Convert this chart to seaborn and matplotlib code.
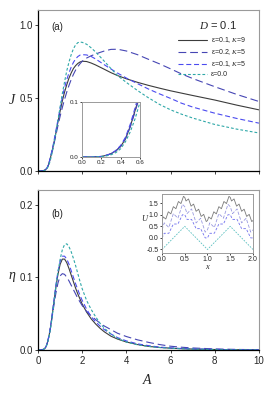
import numpy as np
import pandas as pd
import matplotlib
matplotlib.use("Agg")
import matplotlib.pyplot as plt
import seaborn as sns

# amplitude grid (shared by all curves)
A = [0, 0.1, 0.15, 0.2, 0.25, 0.3, 0.35, 0.4, 0.45, 0.5, 0.55, 0.6,
     0.7, 0.8, 0.9, 1.0, 1.1, 1.2, 1.3, 1.4, 1.5, 1.6, 1.7, 1.8, 1.9, 2.0,
     2.2, 2.4, 2.6, 2.8, 3.0, 3.3, 3.6, 4.0, 4.5, 5.0, 5.5, 6.0, 6.5, 7.0,
     8.0, 9.0, 10.0]

# current J(A)
J_e1_k9 = [0, 0, 0.0005, 0.001, 0.003, 0.006, 0.011, 0.019, 0.033, 0.056, 0.085, 0.115,
           0.18, 0.255, 0.335, 0.41, 0.48, 0.54, 0.59, 0.635, 0.67, 0.70, 0.72, 0.735, 0.745, 0.75,
           0.748, 0.738, 0.725, 0.71, 0.695, 0.672, 0.652, 0.63, 0.606, 0.585, 0.566, 0.548, 0.532, 0.516,
           0.485, 0.45, 0.418]
J_e2_k5 = [0, 0, 0.0005, 0.001, 0.003, 0.006, 0.011, 0.02, 0.034, 0.055, 0.083, 0.112,
           0.172, 0.24, 0.31, 0.375, 0.435, 0.49, 0.54, 0.585, 0.625, 0.66, 0.69, 0.713, 0.733, 0.75,
           0.772, 0.787, 0.799, 0.81, 0.82, 0.831, 0.832, 0.82, 0.795, 0.763, 0.732, 0.698, 0.663, 0.632,
           0.576, 0.523, 0.475]
J_e1_k5 = [0, 0, 0.0005, 0.001, 0.003, 0.006, 0.012, 0.021, 0.036, 0.06, 0.09, 0.122,
           0.19, 0.27, 0.35, 0.43, 0.505, 0.57, 0.625, 0.67, 0.71, 0.742, 0.766, 0.782, 0.792, 0.795,
           0.793, 0.783, 0.766, 0.746, 0.726, 0.697, 0.669, 0.635, 0.597, 0.56, 0.527, 0.496, 0.463, 0.437,
           0.395, 0.359, 0.327]
J_e0 = [0, 0, 0.0003, 0.0007, 0.002, 0.004, 0.008, 0.015, 0.028, 0.046, 0.07, 0.1,
        0.17, 0.255, 0.345, 0.44, 0.53, 0.61, 0.685, 0.745, 0.795, 0.835, 0.862, 0.877, 0.881, 0.879,
        0.866, 0.842, 0.814, 0.782, 0.75, 0.70, 0.652, 0.605, 0.55, 0.50, 0.455, 0.418, 0.388, 0.362,
        0.318, 0.286, 0.26]

# efficiency eta(A)
eta_e1_k9 = [0, 0, 0.0002, 0.0005, 0.001, 0.002, 0.004, 0.008, 0.013, 0.02, 0.029, 0.039,
             0.062, 0.085, 0.104, 0.118, 0.125, 0.125, 0.12, 0.112, 0.103, 0.094, 0.085, 0.077, 0.07, 0.063,
             0.052, 0.043, 0.036, 0.03, 0.025, 0.019, 0.015, 0.011, 0.0075, 0.005, 0.0035, 0.0025, 0.0018, 0.0013,
             0.0007, 0.0004, 0.0002]
eta_e2_k5 = [0, 0, 0.0002, 0.0005, 0.001, 0.002, 0.004, 0.008, 0.013, 0.02, 0.028, 0.038,
             0.058, 0.077, 0.092, 0.102, 0.105, 0.104, 0.1, 0.095, 0.089, 0.083, 0.077, 0.071, 0.066, 0.061,
             0.053, 0.047, 0.042, 0.037, 0.033, 0.028, 0.023, 0.0185, 0.014, 0.0105, 0.0075, 0.0052, 0.0038, 0.0028,
             0.0015, 0.0008, 0.0004]
eta_e1_k5 = [0, 0, 0.0002, 0.0005, 0.001, 0.002, 0.004, 0.008, 0.014, 0.021, 0.03, 0.04,
             0.064, 0.088, 0.108, 0.122, 0.129, 0.129, 0.125, 0.118, 0.109, 0.1, 0.091, 0.083, 0.075, 0.068,
             0.056, 0.046, 0.039, 0.033, 0.028, 0.022, 0.017, 0.0125, 0.0085, 0.006, 0.004, 0.003, 0.002, 0.0015,
             0.0008, 0.0004, 0.0002]
eta_e0 = [0, 0, 0.0002, 0.0004, 0.001, 0.002, 0.004, 0.007, 0.012, 0.019, 0.027, 0.037,
          0.06, 0.085, 0.107, 0.125, 0.138, 0.145, 0.146, 0.142, 0.135, 0.126, 0.116, 0.105, 0.094, 0.084,
          0.068, 0.056, 0.046, 0.037, 0.03, 0.022, 0.016, 0.011, 0.0072, 0.0049, 0.0034, 0.0024, 0.0017, 0.0012,
          0.0006, 0.0003, 0.0001]

# potential U(x), one period each (shifted up for clarity)
u_k9_cell = [0.75, 0.906, 0.861, 0.817, 0.972, 1.128, 1.083, 1.039, 1.194, 1.35,
             1.306, 1.261, 1.417, 1.572, 1.528, 1.483, 1.639, 1.794, 1.75,
             1.594, 1.639, 1.683, 1.528, 1.372, 1.417, 1.461, 1.306, 1.15,
             1.194, 1.239, 1.083, 0.928, 0.972, 1.017, 0.861, 0.706, 0.75]
u_e2k5_cell = [0.35, 0.65, 0.55, 0.45, 0.75, 1.05, 0.95, 0.85, 1.15, 1.45, 1.35,
               1.05, 1.15, 1.25, 0.95, 0.65, 0.75, 0.85, 0.55, 0.25, 0.35]
u_e1k5_cell = [0.0, 0.2, 0.2, 0.2, 0.4, 0.6, 0.6, 0.6, 0.8, 1.0, 1.0,
               0.8, 0.8, 0.8, 0.6, 0.4, 0.4, 0.4, 0.2, 0.0, 0.0]
u_e0_cell = [-0.5, 0.5, -0.5]

labels = ['ε=0.1, $K$=9', 'ε=0.2, $K$=5', 'ε=0.1, $K$=5', 'ε=0.0']
colors = ['#3c3c3c', '#4646b4', '#4b4bf0', '#2fa8a8']
inset_colors = ['#7a7a7a', '#9a9ae0', '#7070ee', '#5cc0c0']
dash_list = ['', (7, 3.5), (4.5, 2.5), (2.5, 1.8)]

sns.set_style("ticks")
plt.rcParams['font.family'] = ['Liberation Sans', 'DejaVu Sans']
plt.rcParams['mathtext.fontset'] = 'custom'
plt.rcParams['mathtext.it'] = 'Liberation Serif:italic'
plt.rcParams['mathtext.rm'] = 'Liberation Serif'

df = pd.concat([
    pd.DataFrame({'A': A, 'J': j, 'eta': e, 'series': lab})
    for j, e, lab in zip([J_e1_k9, J_e2_k5, J_e1_k5, J_e0],
                         [eta_e1_k9, eta_e2_k5, eta_e1_k5, eta_e0], labels)
])

u_cells = [u_k9_cell, u_e2k5_cell, u_e1k5_cell, u_e0_cell]
df_u = pd.concat([
    pd.DataFrame({'x': np.linspace(0, 2, 2 * len(c) - 1), 'U': c + c[1:], 'series': lab})
    for c, lab in zip(u_cells, labels)
])

pal = dict(zip(labels, colors))
dsh = dict(zip(labels, dash_list))

fig = plt.figure(figsize=(2.7, 3.99), dpi=100)
ax1 = fig.add_axes([0.141, 0.5714, 0.818, 0.4035])
ax2 = fig.add_axes([0.141, 0.1228, 0.818, 0.401])


def style_axes(ax, fs):
    for s in ['top', 'right']:
        ax.spines[s].set_color('#9a9a9a')
        ax.spines[s].set_linewidth(0.8)
    for s in ['left', 'bottom']:
        ax.spines[s].set_color('black')
        ax.spines[s].set_linewidth(0.9)
    ax.tick_params(labelsize=fs, length=2.5, width=0.6, pad=1.5)
    ax.set_xlabel('')
    ax.set_ylabel('')


sns.lineplot(data=df, x='A', y='J', hue='series', style='series', hue_order=labels,
             style_order=labels, palette=pal, dashes=dsh, sort=False, estimator=None,
             lw=0.8, ax=ax1)
ax1.set_xlim(0, 10)
ax1.set_ylim(0, 1.1)
ax1.set_xticks(range(0, 11, 2))
ax1.set_xticklabels([])
ax1.set_yticks([0.0, 0.5, 1.0])
ax1.set_yticklabels(['0.0', '0.5', '1.0'])
style_axes(ax1, 7)
handles = ax1.get_legend().legend_handles
ax1.legend(handles=handles, labels=labels, loc='upper left', bbox_to_anchor=(0.62, 0.86),
           frameon=False, fontsize=5, handlelength=4.2, labelspacing=0.3, handletextpad=0.6,
           borderaxespad=0)
ax1.text(0.815, 0.905, '$D$ = 0.1', transform=ax1.transAxes, fontsize=8, ha='center', va='center')
ax1.text(0.086, 0.895, '(a)', transform=ax1.transAxes, fontsize=7, ha='center', va='center')

sns.lineplot(data=df, x='A', y='eta', hue='series', style='series', hue_order=labels,
             style_order=labels, palette=pal, dashes=dsh, sort=False, estimator=None,
             lw=0.8, ax=ax2, legend=False)
ax2.set_xlim(0, 10)
ax2.set_ylim(0, 0.22)
ax2.set_xticks(range(0, 11, 2))
ax2.set_yticks([0.0, 0.1, 0.2])
ax2.set_yticklabels(['0.0', '0.1', '0.2'])
style_axes(ax2, 7)
ax2.text(0.086, 0.85, '(b)', transform=ax2.transAxes, fontsize=7, ha='center', va='center')

fig.text(0.045, 0.75, '$J$', fontsize=10, ha='center', va='center')
fig.text(0.045, 0.305, '$\\eta$', fontsize=10, ha='center', va='center')
fig.text(0.548, 0.048, '$A$', fontsize=10, ha='center', va='center')

# inset (a): onset of the current
axi1 = fig.add_axes([0.3037, 0.6065, 0.2148, 0.1378])
sns.lineplot(data=df, x='A', y='J', hue='series', style='series', hue_order=labels,
             style_order=labels, palette=pal, dashes=dsh, sort=False, estimator=None,
             lw=0.8, ax=axi1, legend=False)
axi1.set_xlim(0, 0.6)
axi1.set_ylim(0, 0.1)
axi1.set_xticks([0.0, 0.2, 0.4, 0.6])
axi1.set_xticklabels(['0.0', '0.2', '0.4', '0.6'])
axi1.set_yticks([0.0, 0.1])
axi1.set_yticklabels(['0.0', '0.1'])
style_axes(axi1, 4.5)
for s in ['left', 'bottom', 'top', 'right']:
    axi1.spines[s].set_color('#9a9a9a')
    axi1.spines[s].set_linewidth(0.7)
axi1.tick_params(length=1.5, pad=1)

# inset (b): the potentials
axi2 = fig.add_axes([0.6, 0.366, 0.337, 0.148])
sns.lineplot(data=df_u, x='x', y='U', hue='series', style='series', hue_order=labels,
             style_order=labels, palette=dict(zip(labels, inset_colors)),
             dashes=dict(zip(labels, ['', (4, 2), (3, 2), (2, 1.5)])), sort=False,
             estimator=None, lw=0.6, ax=axi2, legend=False)
axi2.set_xlim(0, 2)
axi2.set_ylim(-0.65, 1.9)
axi2.set_xticks([0.0, 0.5, 1.0, 1.5, 2.0])
axi2.set_xticklabels(['0.0', '0.5', '1.0', '1.5', '2.0'])
axi2.set_yticks([-0.5, 0.0, 0.5, 1.0, 1.5])
axi2.set_yticklabels(['-0.5', '0.0', '0.5', '1.0', '1.5'])
style_axes(axi2, 5)
for s in ['left', 'bottom', 'top', 'right']:
    axi2.spines[s].set_color('#9a9a9a')
    axi2.spines[s].set_linewidth(0.7)
axi2.tick_params(length=1.5, pad=1)
axi2.set_xlabel('$x$', fontsize=6, labelpad=0)
axi2.set_ylabel('$U$', fontsize=6, labelpad=1, rotation=0)

fig.savefig('out.png', dpi=100)
